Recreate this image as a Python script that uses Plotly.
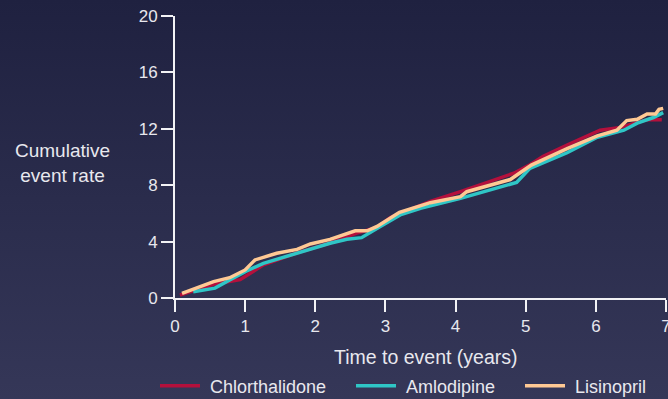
import base64
import plotly.graph_objects as go

# cumulative event rate (%)
chlor_t = [0.07, 0.57, 0.93, 1.26, 1.74, 2.21, 2.59, 2.88, 3.07, 3.64, 4.07, 4.54, 4.83, 5.06, 5.25,
           5.59, 6.06, 6.35, 6.54, 6.73, 6.94]
chlor_y = [0.2, 1.0, 1.3, 2.35, 3.2, 3.9, 4.6, 5.0, 5.7, 6.85, 7.55, 8.35, 8.85, 9.45, 10.05,
           10.85, 11.9, 12.1, 12.4, 12.65, 12.65]

amlo_t = [0.26, 0.57, 0.78, 1.0, 1.26, 1.74, 2.21, 2.45, 2.66, 2.92, 3.21, 3.5, 4.07, 4.87, 5.06,
          5.59, 6.02, 6.4, 6.59, 6.82, 6.96]
amlo_y = [0.45, 0.7, 1.28, 1.87, 2.46, 3.17, 3.88, 4.16, 4.28, 5.06, 5.89, 6.36, 7.07, 8.2, 9.2,
          10.3, 11.4, 11.9, 12.4, 12.8, 13.15]

lisi_t = [0.1, 0.55, 0.78, 1.0, 1.14, 1.45, 1.74, 1.93, 2.21, 2.57, 2.74, 2.88, 3.2, 3.64, 4.07,
          4.16, 4.78, 5.08, 5.59, 6.02, 6.3, 6.44, 6.59, 6.73, 6.85, 6.9, 6.96]
lisi_y = [0.33, 1.16, 1.44, 1.99, 2.7, 3.17, 3.45, 3.83, 4.16, 4.77, 4.77, 5.08, 6.08, 6.76, 7.19,
          7.54, 8.4, 9.43, 10.6, 11.5, 11.9, 12.58, 12.67, 13.05, 13.05, 13.38, 13.45]

series = [
    ("Chlorthalidone", chlor_t, chlor_y, "#b4103c"),
    ("Amlodipine", amlo_t, amlo_y, "#2fc6c6"),
    ("Lisinopril", lisi_t, lisi_y, "#ffc994"),
]

W, H = 668, 399
ML, MR, MT, MB = 175, 2, 16, 101
pw, ph = W - ML - MR, H - MT - MB

# dark navy vertical gradient behind everything
svg = (f'<svg xmlns="http://www.w3.org/2000/svg" width="{W}" height="{H}">'
       '<defs><linearGradient id="g" x1="0" y1="0" x2="0" y2="1">'
       '<stop offset="0" stop-color="#1f2140"/><stop offset="1" stop-color="#353758"/>'
       '</linearGradient></defs>'
       f'<rect width="{W}" height="{H}" fill="url(#g)"/></svg>')
bg_src = "data:image/svg+xml;base64," + base64.b64encode(svg.encode()).decode()

# one single-entry legend per series, so the row never wraps
legend_ids = ["legend", "legend2", "legend3"]
legend_left_px = [155, 351, 520]

fig = go.Figure()
for (name, t, y, col), lid in zip(series, legend_ids):
    fig.add_trace(go.Scatter(x=t, y=y, mode="lines", name="\u00a0" + name, legend=lid,
                             line=dict(color=col, width=3.5)))

axis_common = dict(showline=True, linecolor="#f2f2f5", linewidth=2,
                   ticks="outside", ticklen=12, tickwidth=2, tickcolor="#f2f2f5",
                   showgrid=False, zeroline=False, ticklabeloverflow="allow",
                   automargin=False,
                   tickfont=dict(size=17, color="#e8e8ee"))

legends = {}
for lid, px in zip(legend_ids, legend_left_px):
    legends[lid] = dict(orientation="h", x=px / W, xref="container", xanchor="left",
                        y=1 - 386 / H, yref="container", yanchor="middle",
                        font=dict(size=18, color="#e8e8ee"), bgcolor="rgba(0,0,0,0)",
                        itemwidth=40)

fig.update_layout(
    width=W, height=H,
    margin=dict(l=ML, r=MR, t=MT, b=MB, autoexpand=False),
    paper_bgcolor="#2a2c4c",
    plot_bgcolor="rgba(0,0,0,0)",
    font=dict(family="Liberation Sans, Arial, sans-serif", color="#e8e8ee"),
    xaxis=dict(range=[0, 7], dtick=1, **axis_common),
    yaxis=dict(range=[0, 20], dtick=4, **axis_common),
    showlegend=True,
    images=[dict(source=bg_src, xref="paper", yref="paper",
                 x=-ML / pw, y=1 + MT / ph, sizex=W / pw, sizey=H / ph,
                 xanchor="left", yanchor="top", sizing="stretch", layer="below")],
    annotations=[
        dict(text="Cumulative<br>event rate", xref="paper", yref="paper",
             x=(62 - ML) / pw, y=1 - (163 - MT) / ph, xanchor="center", yanchor="middle",
             showarrow=False, align="center", font=dict(size=19, color="#e8e8ee")),
        dict(text="Time to event (years)", xref="paper", yref="paper",
             x=(426 - ML) / pw, y=-(357 - (H - MB)) / ph, xanchor="center", yanchor="middle",
             showarrow=False, font=dict(size=19.5, color="#e8e8ee")),
    ],
    **legends,
)

fig.write_html("out.html", config={"displayModeBar": False},
               post_script="document.body.style.margin='0';"
                           "document.body.style.background='#2a2c4c';")
